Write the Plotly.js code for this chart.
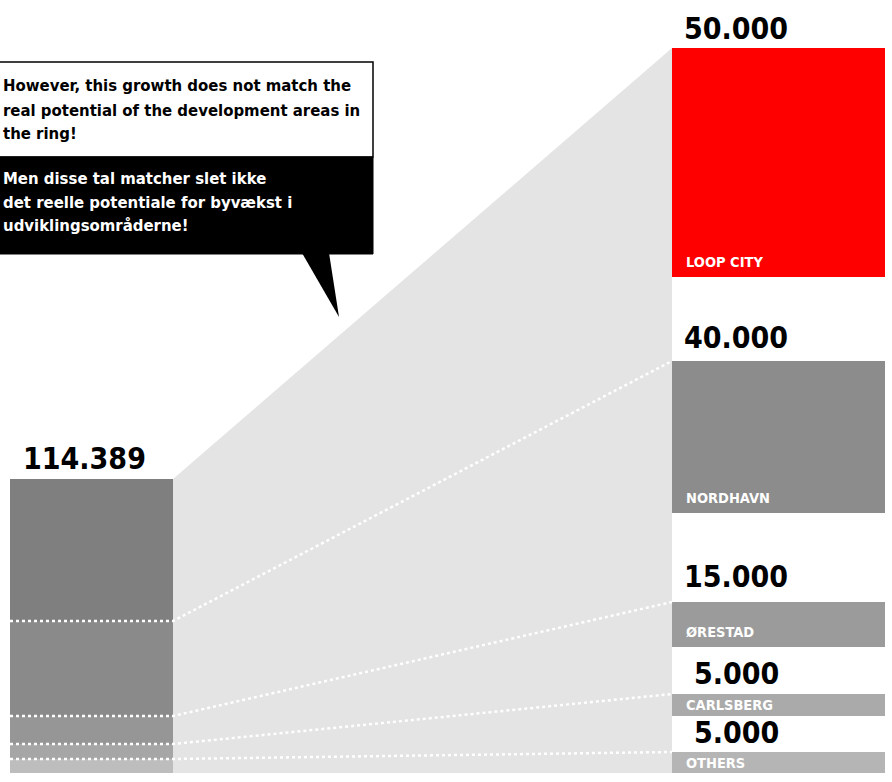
<!DOCTYPE html>
<html><head><meta charset="utf-8">
<script src="https://cdn.plot.ly/plotly-3.0.1.min.js"></script>
<style>html,body{margin:0;padding:0;background:#fff}</style>
</head><body><div id="chart" style="width:892px;height:782px"></div>
<script>
// ---- data ----
const areas = ['LOOP CITY', 'NORDHAVN', 'ØRESTAD', 'CARLSBERG', 'OTHERS'];
const potential = [50000, 40000, 15000, 5000, 5000];
const potentialLabels = ['50.000', '40.000', '15.000', '5.000', '5.000'];
const currentTotal = 114389;
const currentTotalLabel = '114.389';
const currentShare = [55250, 36960, 10900, 5830, 5449]; // estimated split of the 114.389 by area
const calloutEN = ['However, this growth does not match the', 'real potential of the development areas in', 'the ring!'];
const calloutDA = ['Men disse tal matcher slet ikke', 'det reelle potentiale for byvækst i', 'udviklingsområderne!'];

// ---- styles / design geometry (infographic is not drawn to scale) ----
const leftColors = ['#7f7f7f', '#8a8a8a', '#969696', '#a6a6a6', '#bdbdbd'];
const rightColors = ['#ff0000', '#8c8c8c', '#9b9b9b', '#aaaaaa', '#b5b5b5'];
const FONT = 'DejaVu Sans Condensed, DejaVu Sans, sans-serif';
const geo = {
  leftX: [10, 173], rightX: [672, 885],
  leftHeight: 294,
  rightBase: [496, 260, 126, 57, 0],
  rightHeight: [229, 152, 45, 22, 21],
  labelLift: [20, 24, 26, 21, 20]
};

// left stacked segments (bottom-up stacking: OTHERS at bottom, LOOP CITY on top)
const scale = geo.leftHeight / currentTotal;
const segH = currentShare.map(v => v * scale);
const segBase = segH.map((h, i) => segH.slice(i + 1).reduce((a, b) => a + b, 0));
const segTop = segBase.map((b, i) => b + segH[i]);
const rightTop = geo.rightBase.map((b, i) => b + geo.rightHeight[i]);

const lcx = (geo.leftX[0] + geo.leftX[1]) / 2, lw = geo.leftX[1] - geo.leftX[0];
const rcx = (geo.rightX[0] + geo.rightX[1]) / 2, rw = geo.rightX[1] - geo.rightX[0];

const traces = [];
// light grey funnel
traces.push({
  type: 'scatter', mode: 'lines', fill: 'toself', fillcolor: '#e4e4e4',
  line: {width: 0, color: '#e4e4e4'},
  x: [geo.leftX[1], geo.rightX[0], geo.rightX[0], geo.leftX[1]],
  y: [segTop[0], rightTop[0], 0, 0], hoverinfo: 'skip'
});
// left bar
traces.push({
  type: 'bar', x: areas.map(() => lcx), y: segH, base: segBase, width: lw,
  marker: {color: leftColors, line: {width: 0}}, hoverinfo: 'skip'
});
// right bars
traces.push({
  type: 'bar', x: areas.map(() => rcx), y: geo.rightHeight, base: geo.rightBase, width: rw,
  marker: {color: rightColors, line: {width: 0}}, hoverinfo: 'skip'
});
// dotted connectors
for (let i = 1; i < areas.length; i++) {
  traces.push({
    type: 'scatter', mode: 'lines',
    x: [geo.leftX[0], geo.leftX[1], geo.rightX[0]],
    y: [segTop[i], segTop[i], rightTop[i]],
    line: {color: '#ffffff', width: 2.5, dash: 'dot'}, hoverinfo: 'skip'
  });
}

const annotations = [];
annotations.push({
  x: 21, y: segTop[0] + 21, xanchor: 'left', yanchor: 'middle', showarrow: false,
  text: '<b>' + currentTotalLabel + '</b>', font: {family: FONT, size: 30, color: '#000'}
});
areas.forEach((a, i) => {
  annotations.push({
    x: 736, y: rightTop[i] + geo.labelLift[i], xanchor: 'center', yanchor: 'middle', showarrow: false,
    text: '<b>' + potentialLabels[i] + '</b>', font: {family: FONT, size: 30, color: '#000'}
  });
  annotations.push({
    x: 684, y: geo.rightBase[i] + Math.min(15, geo.rightHeight[i] / 2), xanchor: 'left', yanchor: 'middle',
    showarrow: false, text: '<b>' + a + '</b>', font: {family: FONT, size: 14.5, color: '#ffffff'}
  });
});
const enY = [688, 663, 640], daY = [595, 571, 548];
calloutEN.forEach((t, i) => annotations.push({
  x: 1, y: enY[i], xanchor: 'left', yanchor: 'middle', showarrow: false,
  text: '<b>' + t + '</b>', font: {family: FONT, size: 16.6, color: '#000'}
}));
calloutDA.forEach((t, i) => annotations.push({
  x: 1, y: daY[i], xanchor: 'left', yanchor: 'middle', showarrow: false,
  text: '<b>' + t + '</b>', font: {family: FONT, size: 16.6, color: '#fff'}
}));

const shapes = [
  {type: 'rect', x0: -3, x1: 373, y0: 616, y1: 711, fillcolor: '#ffffff', line: {color: '#000', width: 1.5}},
  {type: 'rect', x0: -3, x1: 373, y0: 519, y1: 616, fillcolor: '#000000', line: {color: '#000', width: 1}},
  {type: 'path', path: 'M 302 520 L 329 520 L 339 456 Z', fillcolor: '#000000', line: {color: '#000', width: 0}}
];

const layout = {
  width: 892, height: 782, margin: {l: 0, r: 0, t: 0, b: 0},
  paper_bgcolor: '#ffffff', plot_bgcolor: '#ffffff',
  showlegend: false, hovermode: false, barmode: 'overlay',
  xaxis: {range: [0, 892], visible: false, fixedrange: true},
  yaxis: {range: [-9, 773], visible: false, fixedrange: true},
  annotations: annotations, shapes: shapes
};
Plotly.newPlot('chart', traces, layout, {displayModeBar: false, staticPlot: true});
</script>
</body></html>
